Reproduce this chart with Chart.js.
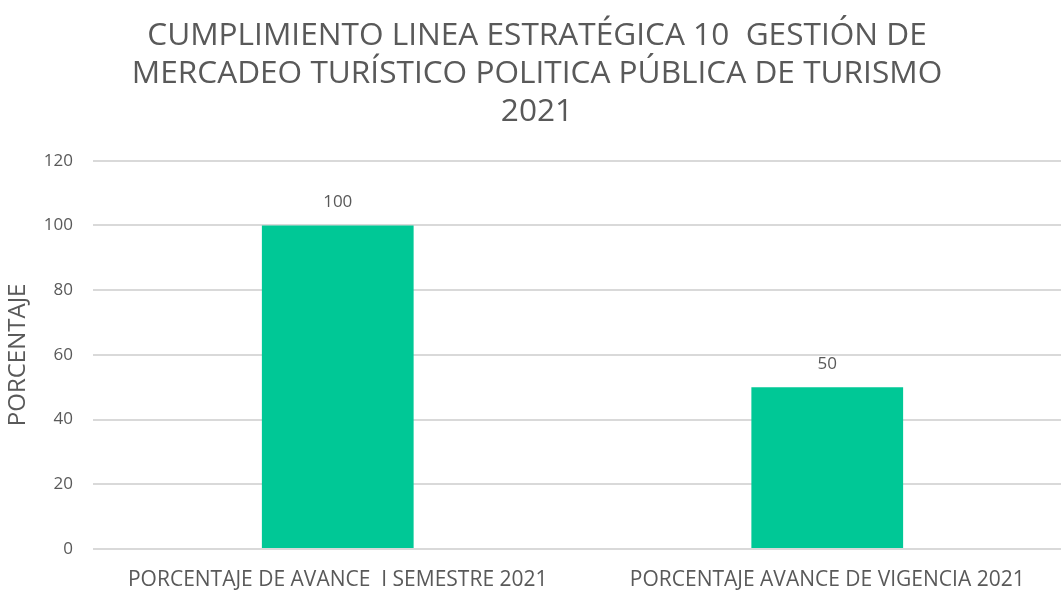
<!DOCTYPE html>
<html>
<head>
<meta charset="utf-8">
<script src="https://cdn.jsdelivr.net/npm/chart.js@4/dist/chart.umd.min.js"></script>
<style>
  html, body { margin: 0; padding: 0; background: #fff; overflow: hidden; }
  /* el grafico original esta recortado por la derecha */
  #wrap { width: 1072px; height: 590px; }
</style>
</head>
<body>
<div id="wrap"><canvas id="barChart"></canvas></div>
<script>
// datos
const categorias = ['PORCENTAJE DE AVANCE  I SEMESTRE 2021', 'PORCENTAJE AVANCE DE VIGENCIA 2021'];
const valores = [100, 50];
const titulo = ['CUMPLIMIENTO LINEA ESTRATÉGICA 10  GESTIÓN DE', 'MERCADEO TURÍSTICO POLITICA PÚBLICA DE TURISMO', '2021'];

const gris = '#595959';
const fuente = "'Open Sans', sans-serif";

// etiquetas encima de las barras
const etiquetas = {
  id: 'etiquetas',
  afterDatasetsDraw(chart) {
    const ctx = chart.ctx;
    ctx.save();
    ctx.fillStyle = gris;
    ctx.font = '17px ' + fuente;
    ctx.textAlign = 'center';
    ctx.textBaseline = 'middle';
    chart.getDatasetMeta(0).data.forEach((bar, i) => {
      ctx.fillText(valores[i], bar.x, bar.y - 23);
    });
    ctx.restore();
  }
};

const ctx = document.getElementById('barChart').getContext('2d');
new Chart(ctx, {
  type: 'bar',
  data: {
    labels: categorias,
    datasets: [{
      label: 'Porcentaje',
      data: valores,
      backgroundColor: '#00C896',
      categoryPercentage: 0.31,
      barPercentage: 1
    }]
  },
  options: {
    responsive: true,
    maintainAspectRatio: false,
    animation: false,
    layout: { padding: { left: 2, right: 0, top: 17, bottom: 0 } },
    plugins: {
      legend: { display: false },
      tooltip: { enabled: false },
      title: {
        display: true,
        text: titulo,
        color: gris,
        font: { family: fuente, size: 31.6, weight: 'normal', lineHeight: 1.2 },
        padding: { top: 0, bottom: 30 }
      }
    },
    scales: {
      x: {
        grid: { display: false, drawTicks: false },
        border: { display: false },
        ticks: { color: gris, font: { family: fuente, size: 21 }, padding: 18, maxRotation: 0 },
        afterFit: s => { s.height = 41; }
      },
      y: {
        min: 0,
        max: 120,
        grid: { color: '#d9d9d9', lineWidth: 2, drawTicks: false },
        border: { display: false },
        ticks: { stepSize: 20, color: gris, font: { family: fuente, size: 17 }, padding: 20 },
        title: {
          display: true,
          text: 'PORCENTAJE',
          color: gris,
          font: { family: fuente, size: 24, weight: 'normal' },
          padding: { top: 2, bottom: 6 }
        },
        afterFit: s => { s.width = 91; }
      }
    }
  },
  plugins: [etiquetas]
});
</script>
</body>
</html>
